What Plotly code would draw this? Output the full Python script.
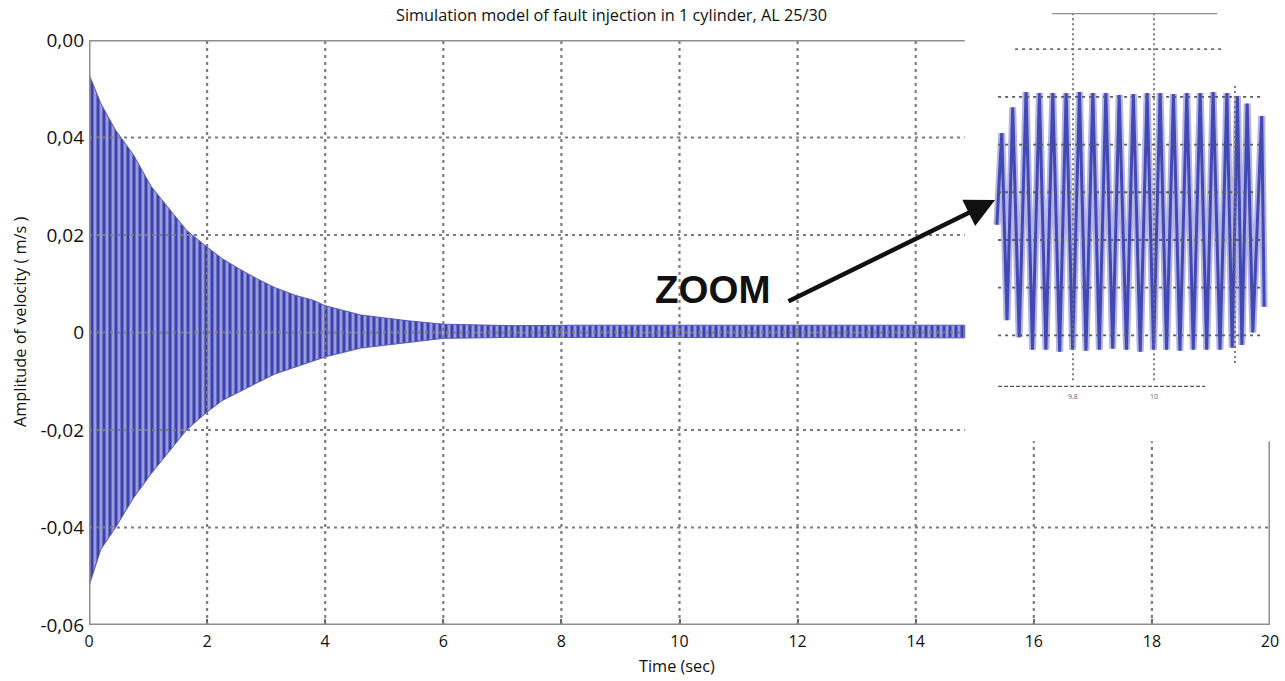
import plotly.graph_objects as go

# ---------------- data ----------------
# envelope of the decaying velocity oscillation (main plot)
env_t = [0, 0.2, 0.45, 0.75, 1.05, 1.35, 1.65, 1.95, 2.25, 2.55, 2.85, 3.15,
         3.5, 3.8, 4.0, 4.6, 5.4, 6.0, 7.2, 8.3, 10, 12, 14, 14.83]
env_upper = [0.053, 0.047, 0.0415, 0.0365, 0.030, 0.0255, 0.021, 0.018, 0.0152,
             0.013, 0.011, 0.0092, 0.0076, 0.0066, 0.0055, 0.0036, 0.0024, 0.0017,
             0.0014, 0.0015, 0.0015, 0.0016, 0.0015, 0.0015]
env_lower = [-0.052, -0.0445, -0.040, -0.034, -0.029, -0.0245, -0.020, -0.0168,
             -0.014, -0.0122, -0.0103, -0.0085, -0.0070, -0.0058, -0.0050, -0.0032,
             -0.0020, -0.0012, -0.0010, -0.0010, -0.0011, -0.0011, -0.0011, -0.0011]

# zoomed view around t = 10 s: successive extrema of the oscillation
zoom_t = [9.612, 9.624, 9.637, 9.651, 9.667, 9.684, 9.700, 9.717, 9.733, 9.750,
          9.767, 9.783, 9.799, 9.816, 9.832, 9.849, 9.865, 9.881, 9.898, 9.914,
          9.932, 9.949, 9.966, 9.983, 9.999, 10.015, 10.031, 10.048, 10.064, 10.081,
          10.097, 10.114, 10.130, 10.146, 10.163, 10.180, 10.193, 10.206, 10.217,
          10.230, 10.244, 10.266, 10.272]
zoom_v = [0.00016, 0.00112, -0.00084, 0.00139, -0.00102, 0.00155, -0.00115, 0.00154,
          -0.00115, 0.00154, -0.00117, 0.00154, -0.00115, 0.00155, -0.00116, 0.00154,
          -0.00115, 0.00154, -0.00114, 0.00152, -0.00115, 0.00153, -0.00117, 0.00154,
          -0.00115, 0.00154, -0.00115, 0.00153, -0.00116, 0.00154, -0.00115, 0.00154,
          -0.00115, 0.00155, -0.00115, 0.00154, -0.00113, 0.00151, -0.00110, 0.00143,
          -0.00097, 0.00130, -0.00070]

x_tickvals = [0, 2, 4, 6, 8, 10, 12, 14, 16, 18, 20]
y_tickvals = [-0.06, -0.04, -0.02, 0, 0.02, 0.04, 0.06]
y_ticktext = ["-0,06", "-0,04", "-0,02", "0", "0,02", "0,04", "0,00"]
zoom_xticks = [9.8, 10]
zoom_xticktext = ["9.8", "10"]
zoom_ygrid = [0.0015, 0.001, 0.0005, 0, -0.0005, -0.001]

title_text = "Simulation model of fault injection in 1 cylinder, AL 25/30"
xtitle = "Time (sec)"
ytitle = "Amplitude of velocity ( m/s )"

# ---------------- figure ----------------
FONT = "Open Sans"
GRID = "#7d7d7d"
FRAME = "#8e8e8e"

fig = go.Figure()

fig.add_trace(go.Scatter(
    x=env_t + env_t[::-1], y=env_upper + env_lower[::-1],
    mode="lines", fill="toself",
    fillpattern=dict(shape="|", size=6, solidity=0.5, fgcolor="#3c41b0",
                     bgcolor="#9a9dda", fillmode="replace"),
    line=dict(color="#5257bb", width=1), hoverinfo="skip", showlegend=False,
    xaxis="x", yaxis="y"))

fig.add_trace(go.Scatter(
    x=zoom_t, y=zoom_v, mode="lines",
    line=dict(color="#b3b5e4", width=7), hoverinfo="skip", showlegend=False,
    xaxis="x2", yaxis="y2"))
fig.add_trace(go.Scatter(
    x=zoom_t, y=zoom_v, mode="lines",
    line=dict(color="#4348b4", width=3), hoverinfo="skip", showlegend=False,
    xaxis="x2", yaxis="y2"))

shapes = []
dot = "3px,4px"
X_END = 14.83     # where the main frame is interrupted by the inset
Y_CUT = -0.0223   # where the right part of the frame resumes

# main gridlines
for xv in [2, 4, 6, 8, 10, 12, 14]:
    shapes.append(dict(type="line", xref="x", yref="y", x0=xv, x1=xv, y0=-0.06, y1=0.06,
                       line=dict(color=GRID, width=2.2, dash=dot), layer="above"))
for xv in [16, 18]:
    shapes.append(dict(type="line", xref="x", yref="y", x0=xv, x1=xv, y0=-0.06, y1=Y_CUT,
                       line=dict(color=GRID, width=2.2, dash=dot), layer="above"))
for yv in [0.04, 0.02, 0, -0.02]:
    shapes.append(dict(type="line", xref="x", yref="y", x0=0, x1=X_END, y0=yv, y1=yv,
                       line=dict(color=GRID, width=2.2, dash=dot), layer="above"))
shapes.append(dict(type="line", xref="x", yref="y", x0=0, x1=20, y0=-0.04, y1=-0.04,
                   line=dict(color=GRID, width=2.2, dash=dot), layer="above"))
# main frame
for (x0, x1, y0, y1) in [(0, X_END, 0.06, 0.06), (0, 0, -0.06, 0.06),
                         (0, 20, -0.06, -0.06), (20, 20, -0.06, Y_CUT)]:
    shapes.append(dict(type="line", xref="x", yref="y", x0=x0, x1=x1, y0=y0, y1=y1,
                       line=dict(color=FRAME, width=3), layer="above"))

# inset grid and frame
ZT, ZB = 0.00238, -0.00154
for xv in zoom_xticks:
    shapes.append(dict(type="line", xref="x2", yref="y2", x0=xv, x1=xv, y0=-0.00147, y1=ZT,
                       line=dict(color="#6f6f6f", width=1.8, dash="2px,3px"), layer="above"))
shapes.append(dict(type="line", xref="x2", yref="y2", x0=10.2, x1=10.2, y0=-0.00129, y1=0.00162,
                   line=dict(color="#6f6f6f", width=1.8, dash="2px,3px"), layer="above"))
shapes.append(dict(type="line", xref="x2", yref="y2", x0=9.657, x1=10.175, y0=0.002, y1=0.002,
                   line=dict(color="#6f6f6f", width=1.8, dash="3px,4px"), layer="above"))
for yv in zoom_ygrid:
    shapes.append(dict(type="line", xref="x2", yref="y2", x0=9.615, x1=10.269, y0=yv, y1=yv,
                       line=dict(color="#5a5a6a", width=1.8, dash="3px,4px"), layer="above"))
shapes.append(dict(type="line", xref="x2", yref="y2", x0=9.748, x1=10.156, y0=ZT, y1=ZT,
                   line=dict(color=FRAME, width=2.5), layer="above"))
shapes.append(dict(type="line", xref="x2", yref="y2", x0=9.615, x1=10.126, y0=ZB, y1=ZB,
                   line=dict(color="#555555", width=2.2, dash="4px,2px"), layer="above"))

annotations = [
    dict(text=title_text, xref="paper", yref="paper", x=(611 - 89) / 1181, y=(625 - 15) / 615,
         xanchor="center", yanchor="middle", showarrow=False,
         font=dict(family=FONT, size=16.3, color="#111")),
    dict(text=xtitle, xref="paper", yref="paper", x=(677 - 89) / 1181, y=(625 - 666) / 615,
         xanchor="center", yanchor="middle", showarrow=False,
         font=dict(family=FONT, size=16.3, color="#111")),
    dict(text=ytitle, xref="paper", yref="paper", x=(20 - 89) / 1181, y=(625 - 322) / 615,
         xanchor="center", yanchor="middle", showarrow=False, textangle=-90,
         font=dict(family=FONT, size=16.3, color="#111")),
    dict(text="<b>ZOOM</b>", xref="paper", yref="paper", x=(712 - 89) / 1181, y=(625 - 289) / 615,
         xanchor="center", yanchor="middle", showarrow=False,
         font=dict(family="Liberation Sans", size=38.5, color="#111")),
    dict(text="", xref="x", yref="y", x=(995 - 89) / 59.05, y=(332.5 - 200) / 4875,
         ax=-208, ay=102, axref="pixel", ayref="pixel", showarrow=True,
         arrowhead=2, arrowsize=1.3, arrowwidth=4.5, arrowcolor="#111"),
]
for xv, tt in zip(zoom_xticks, zoom_xticktext):
    annotations.append(dict(text=tt, xref="x2", yref="y2", x=xv, y=ZB, yshift=-10,
                            xanchor="center", yanchor="middle", showarrow=False,
                            font=dict(family=FONT, size=7, color="#666")))

fig.update_layout(
    width=1285, height=681,
    margin=dict(l=89, r=15, t=10, b=56, autoexpand=False),
    paper_bgcolor="white", plot_bgcolor="rgba(0,0,0,0)",
    showlegend=False,
    xaxis=dict(domain=[0, 1], range=[0, 20], tickvals=x_tickvals, showgrid=False,
               zeroline=False, showline=False, ticks="inside", ticklen=6, tickwidth=2,
               tickcolor="#666", tickfont=dict(family=FONT, size=16, color="#111"),
               ticklabelstandoff=5, anchor="y", fixedrange=True, automargin=False),
    yaxis=dict(domain=[0, 585 / 615], range=[-0.06, 0.06], tickvals=y_tickvals,
               ticktext=y_ticktext, showgrid=False, zeroline=False, showline=False,
               ticks="", tickfont=dict(family=FONT, size=19, color="#111"),
               ticklabelstandoff=4, anchor="x", fixedrange=True, automargin=False),
    xaxis2=dict(domain=[(990 - 89) / 1181, 1], range=[9.595, 10.2864], visible=False,
                anchor="y2", fixedrange=True),
    yaxis2=dict(domain=[(625 - 387) / 615, (625 - 13) / 615], range=[-0.001541, 0.002379],
                visible=False, anchor="x2", fixedrange=True),
    shapes=shapes, annotations=annotations,
)

fig.write_html("out.html", config={"displayModeBar": False},
               post_script="document.body.style.margin='0px';document.body.style.overflow='hidden';")
